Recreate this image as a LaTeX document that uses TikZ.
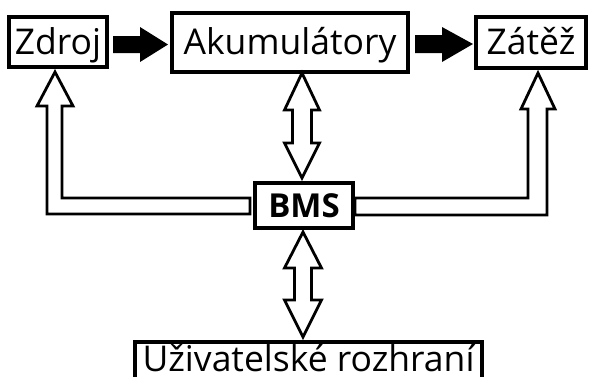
\documentclass[tikz,border=0pt]{standalone}
\usepackage{fontspec}
\setmainfont{Open Sans}
\usetikzlibrary{calc}

\tikzset{
  box/.style={draw, line width=3.5pt, inner sep=0pt, outer sep=0pt,
    text height=27pt, text depth=3pt, font=\fontsize{35.5}{38}\selectfont},
  solidarrow/.style={fill=black},
  hollowarrow/.style={draw, fill=white, line width=2.8pt, line join=miter}
}

\begin{document}
\begin{tikzpicture}[x=1pt, y=-1pt]

        \clip (0,0) rectangle (590,376);
        \fill[white] (0,0) rectangle (590,376);

        % === Bloky ===
        \node[box, minimum width=98pt, minimum height=50pt] (zdroj) at (58, 42) {Zdroj};
        \node[box, minimum width=236pt, minimum height=59pt] (akum) at (290, 42.5) {Akumulátory};
        \node[box, minimum width=110pt, minimum height=51pt] (zatez) at (531, 42.5) {Zátěž};
        \node[box, minimum width=98pt, minimum height=45pt, font=\fontsize{33}{36}\selectfont\bfseries] (bms) at (304, 205.5) {BMS};
        \node[box, minimum width=347pt, minimum height=38pt, text height=25pt, text depth=5pt] (ui) at (308.5, 361) {Uživatelské rozhraní};

        % === Tok energie ===
        \fill[solidarrow] ($(zdroj.east)+(6,-6)$) -- ++(27,0) -- ++(0,-9) -- ++(28,17.5)
            -- ++(-28,17.5) -- ++(0,-9) -- ++(-27,0) -- cycle;
        \fill[solidarrow] ($(akum.east)+(7,-7.5)$) -- ++(27,0) -- ++(0,-8) -- ++(31,17)
            -- ++(-31,18) -- ++(0,-9) -- ++(-27,0) -- cycle;

        % === BMS <-> Akumulátory ===
        \draw[hollowarrow] ($(bms.north)+(-2,-5)$) -- ++(-17.5,-35) -- ++(8,0) -- ++(0,-33)
            -- ++(-8,0) -- ++(17.5,-37) -- ++(17.5,37) -- ++(-8,0) -- ++(0,33) -- ++(8,0) -- cycle;

        % === BMS -> Zdroj ===
        \draw[hollowarrow] ($(bms.west)+(-5,-7.5)$) -- ++(-188,0) -- ++(0,-92) -- ++(11,0)
            -- ++(-18,-34) -- ++(-18,34) -- ++(10,0) -- ++(0,108) -- ++(203,0) -- cycle;

        % === BMS -> Zátěž ===
        \draw[hollowarrow] ($(bms.east)+(2,-7.5)$) -- ++(173,0) -- ++(0,-89) -- ++(-7,0)
            -- ++(17,-36) -- ++(17,36) -- ++(-8,0) -- ++(0,106) -- ++(-192,0) -- cycle;

        % === BMS <-> Uživatelské rozhraní ===
        \draw[hollowarrow] ($(bms.south)+(-1,4)$) -- ++(18.5,36) -- ++(-10,0) -- ++(0,32)
            -- ++(10,0) -- ++(-18.5,37) -- ++(-18.5,-37) -- ++(10,0) -- ++(0,-32) -- ++(-10,0) -- cycle;

\end{tikzpicture}
\end{document}
